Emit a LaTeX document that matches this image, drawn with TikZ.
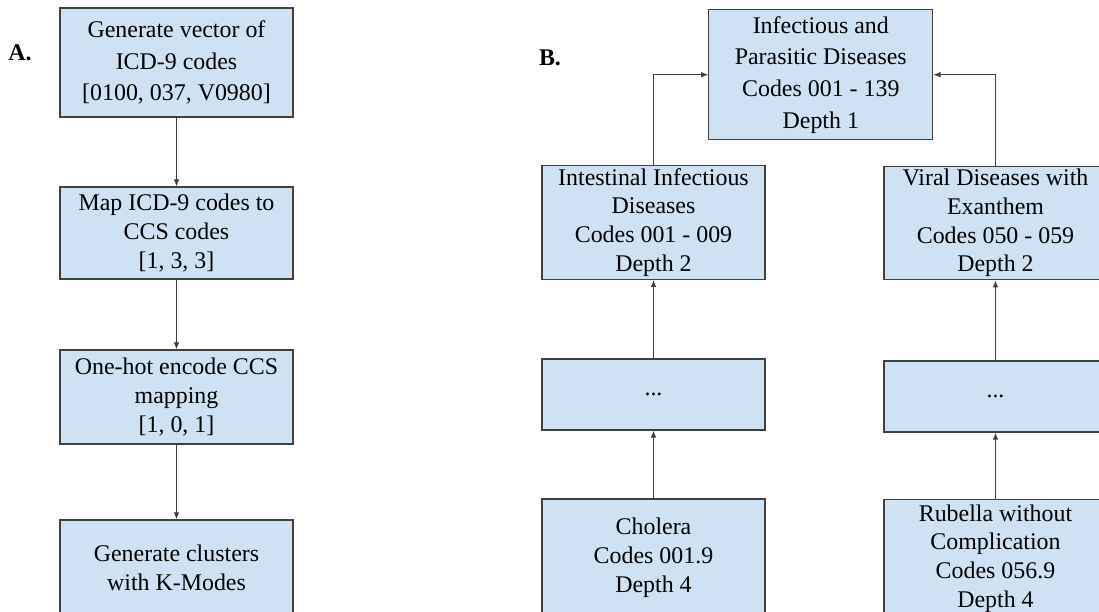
\documentclass[tikz,border=0pt]{standalone}
\usepackage{fontspec}
\setmainfont{Liberation Serif}
\usetikzlibrary{arrows.meta}
\definecolor{boxblue}{HTML}{CFE2F3}
\definecolor{edgegray}{HTML}{404040}

\begin{document}
\begin{tikzpicture}[x=0.025cm, y=-0.025cm,
    box/.style={draw=edgegray, fill=boxblue, line width=0.9pt, align=center,
      font=\fontsize{17}{20.5}\selectfont, inner sep=0pt},
    tallbox/.style={box, font=\fontsize{17}{22.5}\selectfont},
    link/.style={draw=edgegray, line width=0.7pt, -{Latex[length=5pt,width=4pt]}},
    tag/.style={font=\fontsize{17}{20}\selectfont\bfseries}]
    \useasboundingbox (0,0) rectangle (1099,612);
    \clip (0,0) rectangle (1099,612);

    % panel A
    \node[tag] (tagA) at (20,53) {A.};
    \node[tallbox, minimum width=5.825cm, minimum height=2.725cm] (gen) at (176.5,62.5)
      {Generate vector of\\ICD-9 codes\\{[0100, 037, V0980]}};
    \node[box, minimum width=5.825cm, minimum height=2.3cm] (map) at (176.5,233)
      {Map ICD-9 codes to\\CCS codes\\{[1, 3, 3]}};
    \node[box, minimum width=5.825cm, minimum height=2.35cm] (onehot) at (176.5,397)
      {One-hot encode CCS\\mapping\\{[1, 0, 1]}};
    \node[box, minimum width=5.825cm, minimum height=2.375cm] (kmodes) at (176.5,567.5)
      {Generate clusters\\with K-Modes};

    \draw[link] (gen) -- (map);
    \draw[link] (map) -- (onehot);
    \draw[link] (onehot) -- (kmodes);

    % panel B
    \node[tag] (tagB) at (550,58) {B.};
    \node[tallbox, minimum width=5.6cm, minimum height=3.25cm] (infect) at (820.8,74.7)
      {Infectious and\\Parasitic Diseases\\Codes 001 - 139\\Depth 1};
    \node[box, minimum width=5.575cm, minimum height=2.84cm] (intest) at (653.5,222.5)
      {Intestinal Infectious\\Diseases\\Codes 001 - 009\\Depth 2};
    \node[box, minimum width=5.575cm, minimum height=2.84cm] (viral) at (995.5,223)
      {Viral Diseases with\\Exanthem\\Codes 050 - 059\\Depth 2};
    \node[box, minimum width=5.575cm, minimum height=1.775cm] (dotsL) at (653.5,394.5) {...};
    \node[box, minimum width=5.575cm, minimum height=1.775cm] (dotsR) at (995.5,396.5) {...};
    \node[box, minimum width=5.575cm, minimum height=2.95cm] (cholera) at (653.5,558)
      {Cholera\\Codes 001.9\\Depth 4};
    \node[box, minimum width=5.575cm, minimum height=2.95cm] (rubella) at (995.5,558.5)
      {Rubella without\\Complication\\Codes 056.9\\Depth 4};

    \draw[link] (intest.north) |- (infect.west);
    \draw[link] (viral.north) |- (infect.east);
    \draw[link] (dotsL) -- (intest);
    \draw[link] (cholera) -- (dotsL);
    \draw[link] (dotsR) -- (viral);
    \draw[link] (rubella) -- (dotsR);
  \end{tikzpicture}
\end{document}
